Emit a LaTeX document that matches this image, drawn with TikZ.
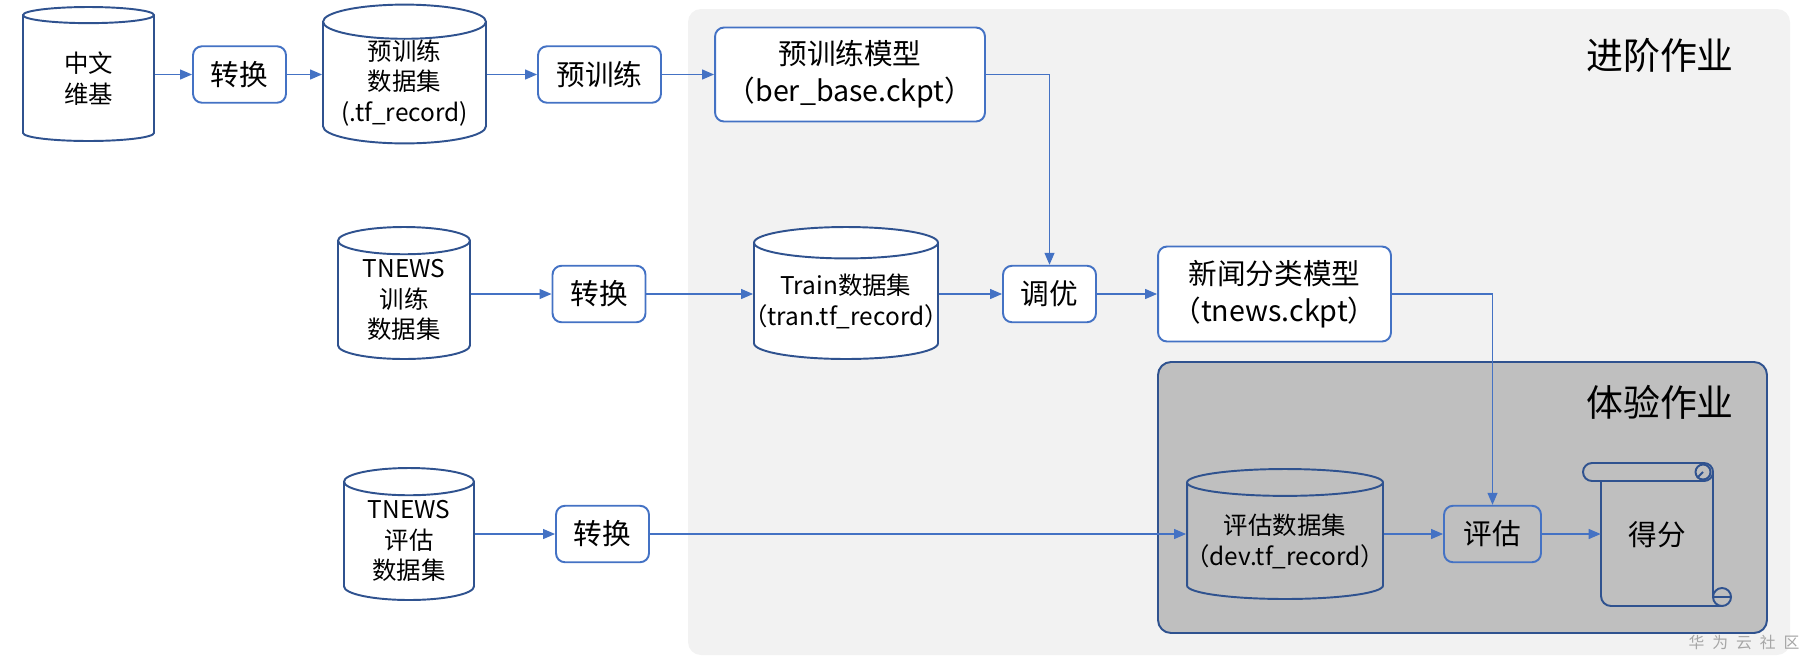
\documentclass[tikz,border=0pt]{standalone}
\usepackage{fontspec}
\setmainfont{Noto Sans CJK SC}
\usepackage{tikz}
\usetikzlibrary{shapes.geometric,arrows.meta,positioning,calc}
\definecolor{lineblue}{HTML}{4472C4}
\definecolor{cylblue}{HTML}{2F528F}
\definecolor{advgray}{HTML}{F2F2F2}
\definecolor{expgray}{HTML}{BFBFBF}
\definecolor{markgray}{HTML}{A6A6A6}
\newcommand{\cylfont}{\fontsize{13.9pt}{17.4pt}\selectfont}
\newcommand{\boxfont}{\fontsize{16.3pt}{21pt}\selectfont}
\newcommand{\titlefont}{\fontsize{21pt}{25pt}\selectfont}
\newcommand{\narrowline}[1]{\makebox[2.4cm]{#1}}
\tikzset{
  datacyl/.style={cylinder, shape border rotate=90, aspect=0.33, anchor=shape center, draw=cylblue, line width=1.1pt, fill=white, align=center, font=\cylfont, inner sep=0pt, minimum width=2.62cm, minimum height=2.68cm},
  stepbox/.style={rectangle, rounded corners=0.18cm, draw=lineblue, line width=1.1pt, fill=white, align=center, font=\boxfont, inner sep=0pt, minimum width=1.86cm, minimum height=1.13cm},
  modelbox/.style={stepbox, minimum height=1.88cm},
  flow/.style={draw=lineblue, line width=0.7pt, -{Triangle[length=0.24cm,width=0.2cm]}},
  zonetitle/.style={font=\titlefont},
  scrollline/.style={draw=cylblue, line width=1.1pt},
}

\begin{document}
\begin{tikzpicture}[x=0.02cm, y=-0.02cm]
  \useasboundingbox (0,0) rectangle (1811,667);
  % zones
  \fill[advgray, rounded corners=0.26cm] (688,9) rectangle (1790,655);
  \filldraw[fill=expgray, draw=cylblue, line width=1.1pt, rounded corners=0.26cm] (1158,362) rectangle (1767,633);
  \node[zonetitle] (advtitle) at (1660,55) {进阶作业};
  \node[zonetitle] (exptitle) at (1660,402) {体验作业};
  % first row
  \node[datacyl] (wiki) at (88.5,74) {中文\\维基};
  \node[stepbox] (conv1) at (239.5,74.5) {转换};
  \node[datacyl, minimum width=3.26cm, aspect=0.27] (ptdata) at (404.5,74) {预训练\\数据集\\(.tf\_record)};
  \node[stepbox, minimum width=2.46cm] (pretrain) at (599.5,74.5) {预训练};
  \node[modelbox, minimum width=5.4cm] (ptmodel) at (850,74.5) {预训练模型\\（ber\_base.ckpt）};
  % second row
  \node[datacyl, minimum width=2.64cm, minimum height=2.64cm] (trainraw) at (404,293) {TNEWS\\训练\\数据集};
  \node[stepbox] (conv2) at (599,294) {转换};
  \node[datacyl, minimum width=3.68cm, minimum height=2.64cm, aspect=0.24] (traindata) at (846,293) {Train数据集\\\narrowline{（tran.tf\_record）}};
  \node[stepbox] (tune) at (1049.5,294) {调优};
  \node[modelbox, minimum width=4.66cm, minimum height=1.9cm] (newsmodel) at (1274.5,294) {新闻分类模型\\（tnews.ckpt）};
  % third row
  \node[datacyl, minimum width=2.6cm, minimum height=2.64cm] (evalraw) at (409,534) {TNEWS\\评估\\数据集};
  \node[stepbox] (conv3) at (602.5,534) {转换};
  \node[datacyl, minimum width=3.92cm, minimum height=2.6cm, aspect=0.22, fill=expgray] (evaldata) at (1285,534) {评估数据集\\\narrowline{（dev.tf\_record）}};
  \node[stepbox, minimum width=1.94cm, fill=expgray] (evaluate) at (1492.5,534) {评估};
  % score scroll
  \draw[scrollline, rounded corners=0.18cm] (1583,463) rectangle (1713,481);
  \draw[scrollline] (1703,472) circle[radius=0.15cm];
  \draw[scrollline] (1703,472) -- (1697,478);
  \draw[scrollline, rounded corners=0.2cm] (1601,481) -- (1601,606) -- (1722,606);
  \draw[scrollline] (1713,472) -- (1713,597);
  \draw[scrollline] (1722,597) circle[radius=0.18cm];
  \draw[scrollline] (1713,597) -- (1731,597);
  \node[font=\boxfont, minimum width=2.24cm, minimum height=2.4cm, inner sep=0pt] (score) at (1657,535) {得分};
  % connectors
  \draw[flow] (wiki.east |- conv1.west) -- (conv1.west);
  \draw[flow] (conv1.east) -- (conv1.east -| ptdata.west);
  \draw[flow] (ptdata.east |- pretrain.west) -- (pretrain.west);
  \draw[flow] (pretrain.east) -- (ptmodel.west);
  \draw[flow] (ptmodel.east) -| (tune.north);
  \draw[flow] (trainraw.east |- conv2.west) -- (conv2.west);
  \draw[flow] (conv2.east) -- (conv2.east -| traindata.west);
  \draw[flow] (traindata.east |- tune.west) -- (tune.west);
  \draw[flow] (tune.east) -- (newsmodel.west);
  \draw[flow] (newsmodel.east) -| (evaluate.north);
  \draw[flow] (evalraw.east |- conv3.west) -- (conv3.west);
  \draw[flow] (conv3.east) -- (conv3.east -| evaldata.west);
  \draw[flow] (evaldata.east |- evaluate.west) -- (evaluate.west);
  \draw[flow] (evaluate.east) -- (evaluate.east -| score.west);
  % watermark
  \node[font=\fontsize{9pt}{10pt}\selectfont, text=markgray] (mark) at (1744,642) {华\hspace{4.5pt}为\hspace{4.5pt}云\hspace{4.5pt}社\hspace{4.5pt}区};
\end{tikzpicture}
\end{document}
